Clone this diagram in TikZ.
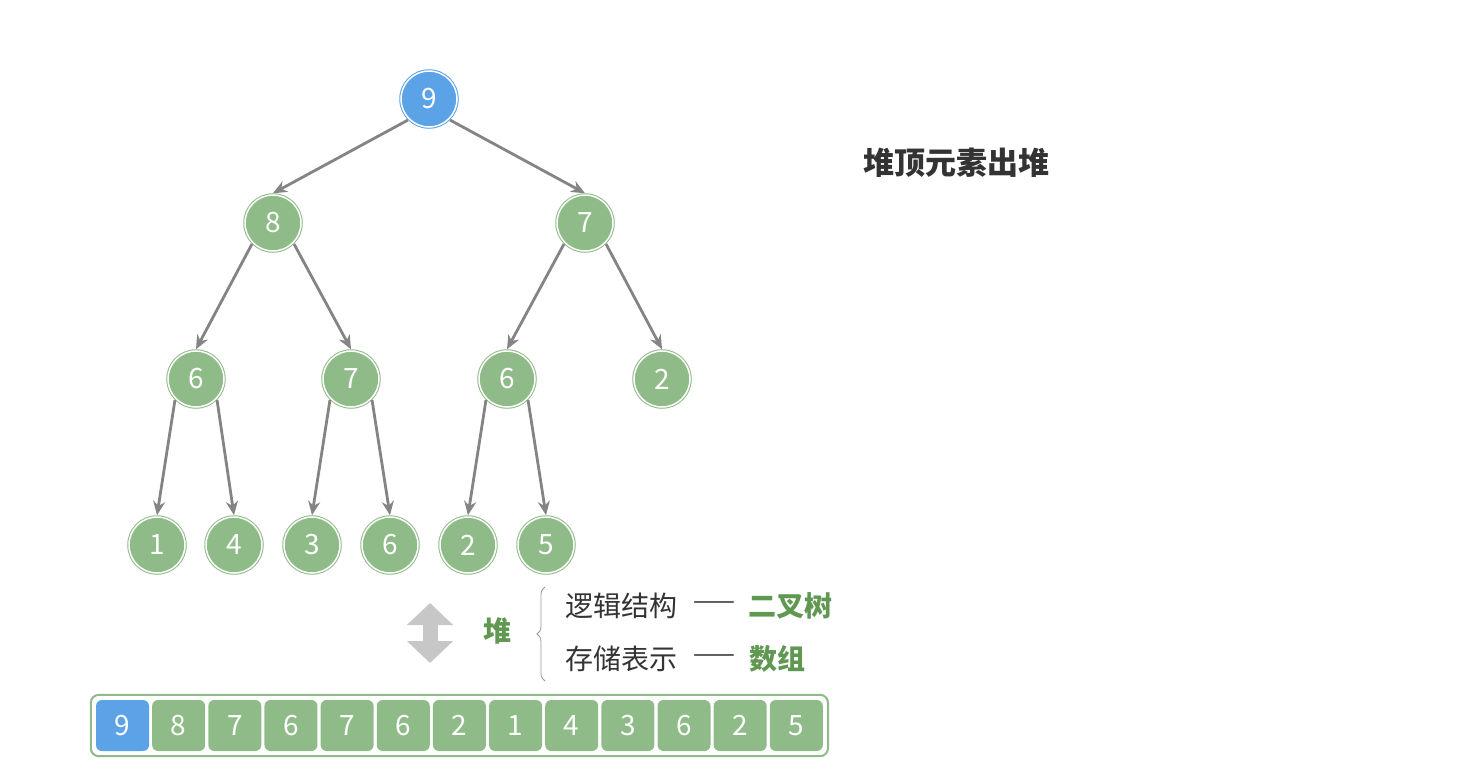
\documentclass[tikz,border=0pt]{standalone}
\usepackage{fontspec}
\setmainfont{Noto Sans CJK SC}
\usepackage{tikz}
\usetikzlibrary{arrows.meta,positioning,fit,decorations.pathreplacing}
\usepackage{xcolor}
\definecolor{heapgreen}{RGB}{143,187,136}
\definecolor{heapblue}{RGB}{92,162,230}
\definecolor{linkgray}{RGB}{132,132,132}
\definecolor{textgreen}{RGB}{96,152,82}
\definecolor{textdark}{RGB}{51,51,51}
\newcommand{\heapfont}{\fontsize{28pt}{33pt}\selectfont}

\begin{document}
\begin{tikzpicture}[x=1pt,y=-1pt,>={Stealth[length=14pt,width=12pt]},
  every node/.style={font=\heapfont},
  vtx/.style={circle, minimum size=56pt, inner sep=0pt, outer sep=1.75pt, fill=heapgreen, draw=heapgreen, line width=1pt, double=white, double distance=1.5pt, text=white},
  rootvtx/.style={vtx, fill=heapblue, draw=heapblue},
  cell/.style={rounded corners=6pt, minimum width=53pt, minimum height=51pt, inner sep=0pt, fill=heapgreen, text=white},
  link/.style={->, draw=linkgray, line width=2.8pt}]
  \useasboundingbox (0,0) rectangle (1480,782);

  % tree
  \node (root) at (429,99) [rootvtx] {9};
  \node (n8)  [vtx, on grid, below left=124pt and 156pt of root] {8};
  \node (n7)  [vtx, on grid, below right=124pt and 156pt of root] {7};
  \node (n6a) [vtx, on grid, below left=156pt and 77pt of n8] {6};
  \node (n7a) [vtx, on grid, below right=156pt and 78pt of n8] {7};
  \node (n6b) [vtx, on grid, below left=156pt and 78pt of n7] {6};
  \node (n2a) [vtx, on grid, below right=156pt and 77pt of n7] {2};
  \node (n1)  [vtx, on grid, below left=166pt and 39pt of n6a] {1};
  \node (n4)  [vtx, on grid, below right=166pt and 38pt of n6a] {4};
  \node (n3)  [vtx, on grid, below left=166pt and 39pt of n7a] {3};
  \node (n6c) [vtx, on grid, below right=166pt and 39pt of n7a] {6};
  \node (n2b) [vtx, on grid, below left=166pt and 39pt of n6b] {2};
  \node (n5)  [vtx, on grid, below right=166pt and 39pt of n6b] {5};
  \draw[link] (root.south west) -- (n8.north);
  \draw[link] (root.south east) -- (n7.north);
  \draw[link] (n8.south west) -- (n6a.north);
  \draw[link] (n8.south east) -- (n7a.north);
  \draw[link] (n7.south west) -- (n6b.north);
  \draw[link] (n7.south east) -- (n2a.north);
  \draw[link] (n6a.south west) -- (n1.north);
  \draw[link] (n6a.south east) -- (n4.north);
  \draw[link] (n7a.south west) -- (n3.north);
  \draw[link] (n7a.south east) -- (n6c.north);
  \draw[link] (n6b.south west) -- (n2b.north);
  \draw[link] (n6b.south east) -- (n5.north);

  % title
  \node (title) at (956,163) [font=\fontsize{31pt}{36pt}\selectfont\bfseries, text=textdark] {堆顶元素出堆};

  % legend
  \coordinate (uptip) at (430,603);
  \coordinate (downtip) at (430,663);
  \draw[draw=black!22, line width=15pt, {Triangle[length=22pt,width=45pt]}-{Triangle[length=22pt,width=45pt]}] (uptip) -- (downtip);
  \node (heap) at (497,631) [text=textgreen, font=\heapfont\bfseries] {堆};
  \coordinate (bracelow) at (545,681);
  \coordinate (bracehigh) at (545,587);
  \draw[decorate, decoration={brace, amplitude=8pt}, draw=black!40, line width=0.8pt] (bracelow) -- (bracehigh);
  \node (logic) at (621,606) [text=textdark] {逻辑结构};
  \node (dash1) at (714,606) [text=textdark, font=\fontsize{25pt}{28pt}\selectfont] {——};
  \node (tree)  at (790,606) [text=textgreen, font=\heapfont\bfseries] {二叉树};
  \node (store) at (621,659) [text=textdark] {存储表示};
  \node (dash2) at (714,659) [text=textdark, font=\fontsize{25pt}{28pt}\selectfont] {——};
  \node (array) at (777,659) [text=textgreen, font=\heapfont\bfseries] {数组};

  % array
  \node (a1)  at (122.5,725.5) [cell, fill=heapblue] {9};
  \node (a2)  [cell, right=2.75pt of a1] {8};
  \node (a3)  [cell, right=2.75pt of a2] {7};
  \node (a4)  [cell, right=2.75pt of a3] {6};
  \node (a5)  [cell, right=2.75pt of a4] {7};
  \node (a6)  [cell, right=2.75pt of a5] {6};
  \node (a7)  [cell, right=2.75pt of a6] {2};
  \node (a8)  [cell, right=2.75pt of a7] {1};
  \node (a9)  [cell, right=2.75pt of a8] {4};
  \node (a10) [cell, right=2.75pt of a9] {3};
  \node (a11) [cell, right=2.75pt of a10] {6};
  \node (a12) [cell, right=2.75pt of a11] {2};
  \node (a13) [cell, right=2.75pt of a12] {5};
  \node (frame) [fit=(a1)(a13), draw=heapgreen, line width=2pt, rounded corners=8pt, inner sep=5pt] {};
\end{tikzpicture}
\end{document}
